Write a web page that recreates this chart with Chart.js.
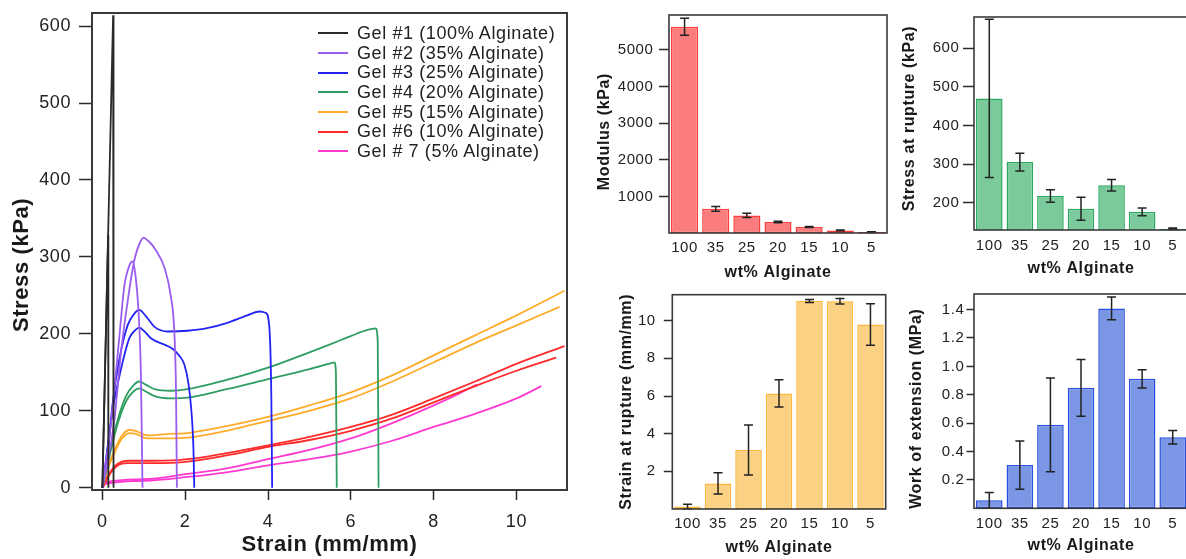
<!DOCTYPE html>
<html><head><meta charset="utf-8">
<script src="https://cdn.jsdelivr.net/npm/chart.js@4.4.1/dist/chart.umd.min.js"></script>
<style>
html,body{margin:0;padding:0;background:#fff;overflow:hidden;width:1186px;height:559px;}
#wrap{position:relative;width:1186px;height:559px;overflow:hidden;}
canvas{position:absolute;}
#legend{position:absolute;left:318px;top:23.5px;font-family:"Liberation Sans",Arial,Helvetica,sans-serif;font-size:18px;color:#222;letter-spacing:0.6px;}
.row{height:19.7px;display:flex;align-items:center;white-space:nowrap;}
.sw{width:30px;height:2px;margin-right:9px;flex:none;}
</style></head>
<body><div id="wrap">
<canvas id="main" width="580" height="559" style="left:0;top:0"></canvas>
<canvas id="mod" width="310" height="290" style="left:580px;top:0"></canvas>
<canvas id="str" width="310" height="290" style="left:890px;top:0"></canvas>
<canvas id="stn" width="310" height="280" style="left:580px;top:279px"></canvas>
<canvas id="wrk" width="310" height="280" style="left:890px;top:279px"></canvas>
<div id="legend"></div>
</div>
<script>
// ---------- DATA ----------
const gelLabels = ['Gel #1 (100% Alginate)','Gel #2 (35% Alginate)','Gel #3 (25% Alginate)','Gel #4 (20% Alginate)','Gel #5 (15% Alginate)','Gel #6 (10% Alginate)','Gel # 7 (5% Alginate)'];
const gelColors = ['#2a2a2a','#9b5cf0','#2323f5','#2f9e60','#ffab2a','#ff2a2a','#ff3ad0'];

// stress-strain curves: [strain (mm/mm), stress (kPa)]
const gel1a = [[0,0],[0.14,328],[0.145,0]];
const gel1b = [[0,0],[0.26,614],[0.27,0]];
const gel2a = [[0,0],[0.15,40],[0.29,88],[0.45,176],[0.61,242],[0.77,295],[0.93,321],[1.0,325],[1.08,322],[1.13,320],[1.3,308],[1.5,286],[1.65,250],[1.74,200],[1.78,120],[1.8,0]];
const gel2b = [[0,0],[0.2,80],[0.4,190],[0.53,262],[0.6,280],[0.68,292],[0.73,294],[0.8,276],[0.87,232],[0.93,150],[0.97,0]];
const gel3a = [[0,0],[0.13,44],[0.25,110],[0.41,167],[0.61,211],[0.77,226],[0.89,231],[1.05,223],[1.26,209],[1.58,203],[2.06,204],[2.5,207],[3.0,214],[3.5,224],[3.8,229],[3.95,227],[4.03,210],[4.08,120],[4.1,0]];
const gel3b = [[0,0],[0.25,101],[0.45,154],[0.65,194],[0.8,205],[0.89,208],[1.0,204],[1.18,194],[1.54,185],[1.71,180],[1.85,172],[1.98,160],[2.08,135],[2.15,100],[2.2,50],[2.22,0]];
const gel4a = [[0,0],[0.21,53],[0.37,88],[0.57,119],[0.75,133],[0.89,138],[1.05,134],[1.26,128],[1.66,126],[2.06,128],[3,140],[4,156],[5,176],[5.53,187],[6.0,197],[6.4,205],[6.6,207],[6.65,190],[6.67,0]];
const gel4b = [[0,0],[0.21,50],[0.37,83],[0.57,112],[0.75,125],[0.89,129],[1.05,125],[1.26,119],[1.66,116],[2.06,117],[3,128],[4,141],[5,154],[5.53,162],[5.6,163],[5.64,150],[5.66,0]];
const gel5a = [[0,0],[0.13,26],[0.29,48],[0.45,66],[0.65,75],[0.8,74],[1.09,68],[1.62,70],[2.06,71],[3,80],[4,92],[5,107],[6,124],[7,146],[8,172],[9,198],[10,224],[11.16,256]];
const gel5b = [[0,0],[0.13,24],[0.29,45],[0.45,62],[0.65,71],[0.8,70],[1.09,64],[1.62,64],[2.06,65],[3,74],[4,87],[5,100],[6,116],[7,138],[8,163],[9,188],[10,211],[11.04,235]];
const gel6a = [[0,0],[0.1,12],[0.21,22],[0.37,31],[0.61,35],[1.26,35],[2.06,37],[3,45],[4,55],[5,66],[6,79],[7,95],[8,116],[9,138],[10,161],[11.16,184]];
const gel6b = [[0,0],[0.1,10],[0.21,20],[0.37,29],[0.61,32],[1.26,32],[2.06,34],[3,42],[4,53],[5,62],[6,74],[7,90],[8,111],[9,132],[10,152],[10.96,169]];
const gel7a = [[0,0],[0.09,7],[1,11],[2.06,18],[3,25],[4,37],[5,49],[6,64],[7,84],[8,107],[8.6,122],[9.04,134]];
const gel7b = [[0,0],[0.09,5],[1,9],[2.06,14],[3,20],[4,29],[5,37],[6,47],[7,61],[8,79],[9,96],[10,116],[10.6,132]];
const gelCurves = [[gel1a,gel1b],[gel2a,gel2b],[gel3a,gel3b],[gel4a,gel4b],[gel5a,gel5b],[gel6a,gel6b],[gel7a,gel7b]];

const strainTicks = [0,2,4,6,8,10];
const stressTicks = [0,100,200,300,400,500,600];

const alginate = ['100','35','25','20','15','10','5'];
const modVals = [5630,660,480,300,165,70,25];
const modErr  = [230,65,60,20,15,12,8];
const modTicks = [1000,2000,3000,4000,5000];
const strVals = [470,305,217,184,245,176,132];
const strErr  = [205,23,16,30,15,10,2];
const strTicks = [200,300,400,500,600];
const stnVals = [0.13,1.36,3.13,6.14,11.05,11.03,9.8];
const stnErr  = [0.12,0.57,1.33,0.72,0.08,0.15,1.1];
const stnTicks = [2,4,6,8,10];
const wrkVals = [0.056,0.305,0.588,0.849,1.408,0.912,0.501];
const wrkErr  = [0.055,0.17,0.33,0.2,0.08,0.065,0.048];
const wrkTicks = [0.2,0.4,0.6,0.8,1.0,1.2,1.4];

// ---------- STYLE / PLUGINS ----------
const FONT = '"Liberation Sans", Arial, Helvetica, sans-serif';
const INK = '#2b2b2b';
const spacing = {id:'spacing',
  beforeUpdate(c){c.ctx.letterSpacing='0.6px';},
  beforeDraw(c){c.ctx.letterSpacing='0.6px';}};
const boxPlugin = {id:'boxp', afterDraw(c){
  const a=c.chartArea, ctx=c.ctx; ctx.save(); ctx.strokeStyle='#3a3a3a'; ctx.lineWidth=c.$boxW||1.6;
  ctx.strokeRect(a.left,a.top,a.right-a.left,a.bottom-a.top); ctx.restore();}};
const errPlugin = {id:'errp', afterDatasetsDraw(c){
  const ds=c.data.datasets[0], errs=ds.errors; if(!errs) return;
  const meta=c.getDatasetMeta(0), y=c.scales.y, ctx=c.ctx, a=c.chartArea;
  ctx.save(); ctx.beginPath(); ctx.rect(a.left,a.top-2,a.right-a.left,a.bottom-a.top+4); ctx.clip();
  ctx.strokeStyle='#222'; ctx.lineWidth=1.5; ctx.beginPath();
  meta.data.forEach((bar,i)=>{
    const v=ds.data[i], e=errs[i];
    const yt=y.getPixelForValue(v+e), yb=y.getPixelForValue(v-e), x=bar.x, w=4.5;
    ctx.moveTo(x,yt); ctx.lineTo(x,yb);
    ctx.moveTo(x-w,yt); ctx.lineTo(x+w,yt);
    ctx.moveTo(x-w,yb); ctx.lineTo(x+w,yb);
  });
  ctx.stroke(); ctx.restore();}};

// ---------- LEGEND (html) ----------
const lg=document.getElementById('legend');
gelLabels.forEach((t,i)=>{const r=document.createElement('div');r.className='row';
  const s=document.createElement('span');s.className='sw';s.style.background=gelColors[i];
  const tx=document.createElement('span');tx.textContent=t;r.appendChild(s);r.appendChild(tx);lg.appendChild(r);});

// ---------- MAIN CHART ----------
const mainSets=[];
gelCurves.forEach((curves,gi)=>curves.forEach(cv=>mainSets.push({
  label:gelLabels[gi], data:cv.map(p=>({x:p[0],y:p[1]})), borderColor:gelColors[gi],
  borderWidth:1.8, pointRadius:0, fill:false,
  cubicInterpolationMode: gi===0?'default':'monotone', tension: gi===0?0:0.4
})));

const mainChart = new Chart(document.getElementById('main'),{
  type:'line',
  data:{datasets:mainSets},
  options:{responsive:false,animation:false,devicePixelRatio:1,
    layout:{padding:{left:0,top:13,right:13,bottom:0}},
    plugins:{legend:{display:false},tooltip:{enabled:false}},
    scales:{
      x:{type:'linear',min:-0.25,max:11.22,
        afterBuildTicks:s=>{s.ticks=strainTicks.map(v=>({value:v}));},
        afterFit:s=>{s.height=69;s.paddingLeft=0;s.paddingRight=0;},
        grid:{drawOnChartArea:false,drawTicks:true,tickLength:10,tickColor:INK,tickWidth:1.5},
        border:{display:false},
        ticks:{font:{family:FONT,size:18},color:'#222',padding:11,maxRotation:0,autoSkip:false},
        title:{display:true,text:'Strain (mm/mm)',color:'#1a1a1a',font:{family:FONT,size:22,weight:'bold'},padding:{top:0,bottom:0.8}}},
      y:{type:'linear',min:-3,max:617,
        afterBuildTicks:s=>{s.ticks=stressTicks.map(v=>({value:v}));},
        afterFit:s=>{s.width=92;s.paddingTop=0;s.paddingBottom=0;},
        grid:{drawOnChartArea:false,drawTicks:true,tickLength:13,tickColor:INK,tickWidth:1.5},
        border:{display:false},
        ticks:{font:{family:FONT,size:18},color:'#222',padding:8,autoSkip:false},
        title:{display:true,text:'Stress (kPa)    ',color:'#1a1a1a',font:{family:FONT,size:22,weight:'bold'},padding:{top:8.8,bottom:0}}}
    }},
  plugins:[spacing,boxPlugin]
});
mainChart.$boxW=2; mainChart.draw();

// ---------- BAR CHARTS ----------
function barChart(id,cfg){
  const c = new Chart(document.getElementById(id),{
    type:'bar',
    data:{labels:alginate,datasets:[{data:cfg.vals,errors:cfg.errs,backgroundColor:cfg.fill,borderColor:cfg.line,
      borderWidth:1.5,borderSkipped:false,categoryPercentage:1,barPercentage:0.87}]},
    options:{responsive:false,animation:false,devicePixelRatio:1,
      layout:{padding:{left:0,top:cfg.top,right:cfg.right,bottom:0}},
      plugins:{legend:{display:false},tooltip:{enabled:false}},
      scales:{
        x:{afterFit:s=>{s.height=cfg.xh;s.paddingLeft=0;s.paddingRight=0;},
          grid:{display:false,drawTicks:false},border:{display:false},
          ticks:{font:{family:FONT,size:15},color:'#222',padding:cfg.xpad,maxRotation:0,autoSkip:false},
          title:{display:true,text:'wt% Alginate',color:'#1a1a1a',font:{family:FONT,size:16,weight:'bold'},padding:{top:0,bottom:cfg.xtpad}}},
        y:{min:cfg.min,max:cfg.max,
          afterBuildTicks:s=>{s.ticks=cfg.ticks.map(v=>({value:v}));},
          afterFit:s=>{s.width=cfg.yw;s.paddingTop=0;s.paddingBottom=0;},
          grid:{drawOnChartArea:false,drawTicks:true,tickLength:cfg.tl,tickColor:INK,tickWidth:1.5},
          border:{display:false},
          ticks:{font:{family:FONT,size:15},color:'#222',padding:cfg.ypad,autoSkip:false,
            callback:cfg.fmt||(v=>String(v))},
          title:{display:true,text:cfg.title,color:'#1a1a1a',font:{family:FONT,size:16,weight:'bold'},padding:{top:cfg.ytpad,bottom:0}}}
      }},
    plugins:[spacing,errPlugin,boxPlugin]
  });
  return c;
}

barChart('mod',{vals:modVals,errs:modErr,ticks:modTicks,min:0,max:5950,
  fill:'rgba(250,124,124,1)',line:'#ff3c3c',title:'Modulus (kPa)   ',
  top:15,right:3,xh:57,yw:89,tl:10,ypad:5.5,xpad:6,xtpad:7.7,ytpad:14.9});
barChart('str',{vals:strVals,errs:strErr,ticks:strTicks,min:129,max:681,
  fill:'rgba(122,202,155,1)',line:'#2aaa60',title:'  Stress at rupture (kPa)',
  top:17,right:12,xh:60,yw:84,tl:11,ypad:3.5,xpad:7,xtpad:12,ytpad:10.4});
barChart('stn',{vals:stnVals,errs:stnErr,ticks:stnTicks,min:0,max:11.38,
  fill:'rgba(251,210,132,1)',line:'#ffb63a',title:'Strain at rupture (mm/mm)',
  top:15.7,right:4.3,xh:50,yw:92.3,tl:8.5,ypad:8,xpad:6,xtpad:2.1,ytpad:36.9});
barChart('wrk',{vals:wrkVals,errs:wrkErr,ticks:wrkTicks,min:0,max:1.51,
  fill:'rgba(122,150,228,1)',line:'#2a4fe0',title:'Work of extension (MPa)   ',
  top:15,right:12,xh:50.7,yw:84,tl:7.5,ypad:2,xpad:6.7,xtpad:3.7,ytpad:17.1,
  fmt:v=>Number(v).toFixed(1)});
</script>
</body></html>
